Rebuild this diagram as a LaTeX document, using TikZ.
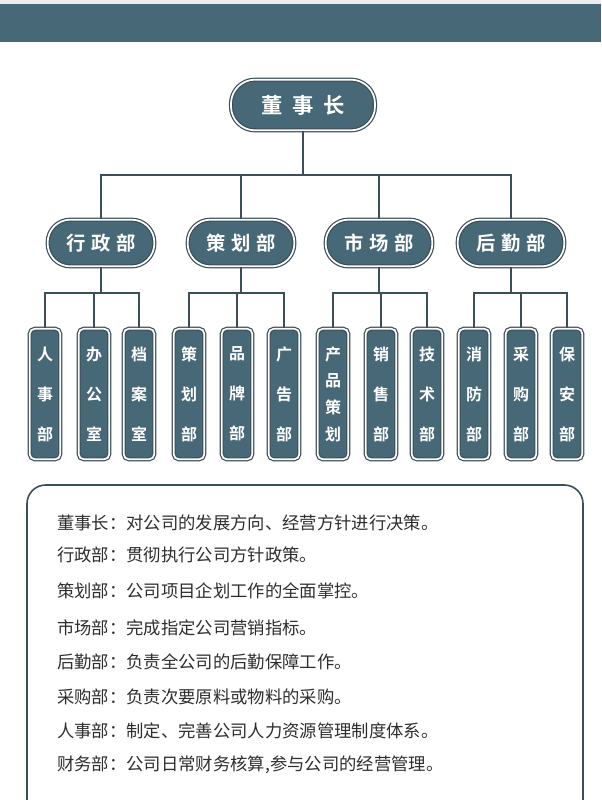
\documentclass[tikz,border=0pt]{standalone}
\usepackage{fontspec}
\setmainfont{Noto Sans CJK SC}
\newfontfamily\cjkb{Noto Sans CJK SC Bold}
\definecolor{slate}{HTML}{476876}
\definecolor{edge}{HTML}{3B4F59}
\definecolor{txt}{HTML}{2E2E2E}
\begin{document}
\begin{tikzpicture}[x=0.75pt,y=-0.75pt,
  box/.style={fill=slate,draw=edge,double=white,double distance=1.3pt,line width=0.9pt,text=white,font=\cjkb},
  top/.style={box,rounded corners=18pt,minimum width=108pt,minimum height=38pt,font=\cjkb\fontsize{16}{18}\selectfont},
  mid/.style={box,rounded corners=17pt,minimum width=80pt,minimum height=35pt,font=\cjkb\fontsize{14.5}{17}\selectfont},
  leaf/.style={box,rounded corners=4pt,minimum width=23pt,minimum height=98pt,inner sep=1pt,align=center,font=\cjkb\fontsize{12}{30}\selectfont},
  leaf4/.style={leaf,font=\cjkb\fontsize{12}{20}\selectfont},
  conn/.style={draw=edge,line width=1.6pt},
  desc/.style={anchor=west,text=txt,font=\fontsize{13}{15}\selectfont,inner sep=0pt}]
\useasboundingbox (0,0) rectangle (601,800);
\fill[white] (0,0) rectangle (601,800);
\fill[gray!15] (0,0) rectangle (601,4);
\fill[slate] (0,4) rectangle (601,42);
\node[top] (ceo) at (303,105) {董\hspace{0.45em}事\hspace{0.45em}长};
\node[mid] (a) at (101,243) {行\hspace{0.3em}政\hspace{0.3em}部};
\node[mid] (b) at (241,243) {策\hspace{0.3em}划\hspace{0.3em}部};
\node[mid] (c) at (379,243) {市\hspace{0.3em}场\hspace{0.3em}部};
\node[mid] (d) at (511,243) {后\hspace{0.3em}勤\hspace{0.3em}部};
\node[leaf] (a1) at (45,394) {人\\事\\部};
\node[leaf] (a2) at (94,394) {办\\公\\室};
\node[leaf] (a3) at (139,394) {档\\案\\室};
\node[leaf] (b1) at (189,394) {策\\划\\部};
\node[leaf] (b2) at (237,394) {品\\牌\\部};
\node[leaf] (b3) at (284,394) {广\\告\\部};
\node[leaf4] (c1) at (333,394) {产\\品\\策\\划};
\node[leaf] (c2) at (381,394) {销\\售\\部};
\node[leaf] (c3) at (427,394) {技\\术\\部};
\node[leaf] (d1) at (474,394) {消\\防\\部};
\node[leaf] (d2) at (521,394) {采\\购\\部};
\node[leaf] (d3) at (567,394) {保\\安\\部};
\draw[conn] (ceo.south) -- (303,175);
\foreach \n in {a,b,c,d} \draw[conn] (\n.north) |- (303,175);
\foreach \p/\x in {a/1,a/2,a/3,b/1,b/2,b/3,c/1,c/2,c/3,d/1,d/2,d/3}
  \draw[conn] (\p\x.north) |- ([yshift=-19.5pt]\p.south) -- (\p.south);
\draw[edge,line width=1.2pt,rounded corners=14pt] (27,830) -- (27,485) -- (583,485) -- (583,830);
\node[desc] (t1) at (57,523) {董事长：对公司的发展方向、经营方针进行决策。};
\node[desc] (t2) at (57,555) {行政部：贯彻执行公司方针政策。};
\node[desc] (t3) at (57,591) {策划部：公司项目企划工作的全面掌控。};
\node[desc] (t4) at (57,628) {市场部：完成指定公司营销指标。};
\node[desc] (t5) at (57,662) {后勤部：负责全公司的后勤保障工作。};
\node[desc] (t6) at (57,697) {采购部：负责次要原料或物料的采购。};
\node[desc] (t7) at (57,731) {人事部：制定、完善公司人力资源管理制度体系。};
\node[desc] (t8) at (57,765) {财务部：公司日常财务核算,参与公司的经营管理。};
\end{tikzpicture}
\end{document}
